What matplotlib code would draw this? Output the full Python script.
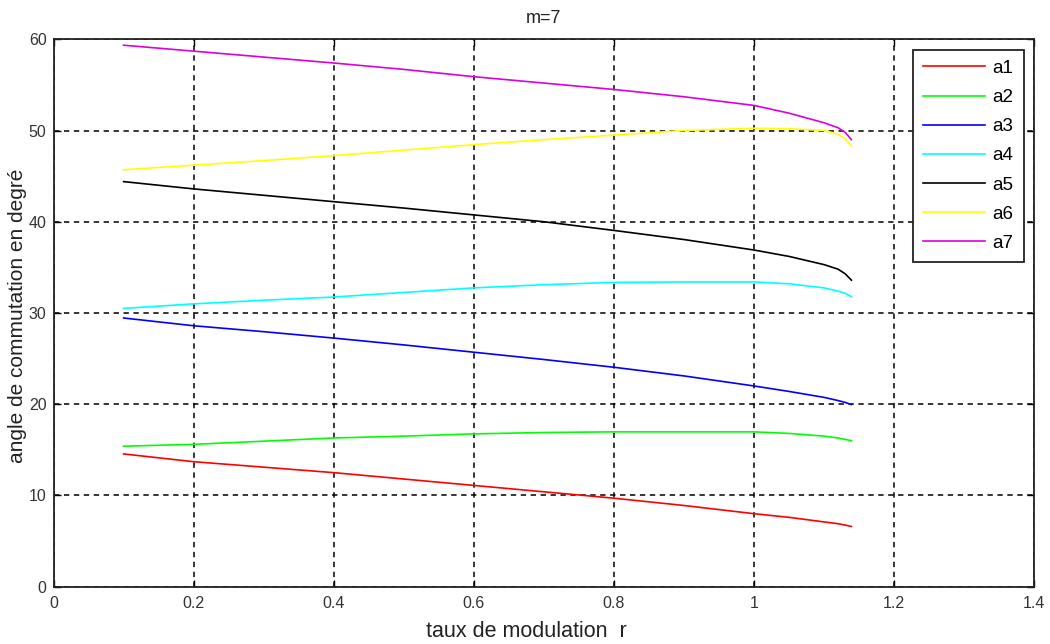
import numpy as np
import matplotlib
matplotlib.use("Agg")
import matplotlib.pyplot as plt

plt.rcParams['font.family'] = ['Liberation Sans', 'DejaVu Sans']

# modulation index r
r = [0.1, 0.2, 0.3, 0.4, 0.5, 0.6, 0.7, 0.8, 0.9, 1.0, 1.05, 1.1, 1.12, 1.13, 1.139]

# switching angles (degrees) for m = 7
a1 = [14.55, 13.7, 13.1, 12.5, 11.8, 11.1, 10.4, 9.7, 8.9, 8.0, 7.6, 7.1, 6.9, 6.75, 6.6]
a2 = [15.4, 15.6, 15.95, 16.3, 16.5, 16.75, 16.9, 16.97, 16.97, 16.97, 16.8, 16.5, 16.3, 16.15, 16.0]
a3 = [29.45, 28.6, 27.95, 27.25, 26.5, 25.7, 24.9, 24.05, 23.1, 22.0, 21.4, 20.75, 20.4, 20.2, 19.96]
a4 = [30.5, 31.0, 31.4, 31.75, 32.25, 32.75, 33.1, 33.35, 33.4, 33.4, 33.2, 32.75, 32.4, 32.15, 31.8]
a5 = [44.4, 43.6, 42.9, 42.2, 41.5, 40.75, 40.0, 39.05, 38.05, 36.9, 36.2, 35.3, 34.8, 34.3, 33.6]
a6 = [45.7, 46.2, 46.7, 47.25, 47.85, 48.45, 49.0, 49.5, 50.0, 50.25, 50.2, 50.0, 49.6, 49.1, 48.3]
a7 = [59.35, 58.7, 58.05, 57.4, 56.7, 55.9, 55.2, 54.5, 53.7, 52.75, 51.9, 50.85, 50.3, 49.8, 49.0]

labels = ['a1', 'a2', 'a3', 'a4', 'a5', 'a6', 'a7']
colors = ['#ff0000', '#00ff00', '#0000ff', '#00ffff', '#000000', '#ffff00', '#dd00dd']

xticks = [0, 0.2, 0.4, 0.6, 0.8, 1, 1.2, 1.4]
xticklabels = ['0', '0.2', '0.4', '0.6', '0.8', '1', '1.2', '1.4']
yticks = [0, 10, 20, 30, 40, 50, 60]

fig = plt.figure(figsize=(10.5, 6.44), dpi=100)
ax = fig.add_axes([0.051, 0.089, 0.934, 0.85])

for ys, lab, c in zip([a1, a2, a3, a4, a5, a6, a7], labels, colors):
    ax.plot(r, ys, color=c, lw=1.2, label=lab)

ax.set_xlim(0, 1.4)
ax.set_ylim(0, 60)
ax.set_xticks(xticks)
ax.set_xticklabels(xticklabels)
ax.set_yticks(yticks)
ax.tick_params(axis='both', direction='in', top=True, right=True, length=5, width=1,
               labelsize=11.5, labelcolor='#333333')
ax.tick_params(axis='x', pad=7)
ax.tick_params(axis='y', pad=5)
ax.grid(True, color='black', linestyle=(0, (3.5, 3)), lw=1.1)
for s in ax.spines.values():
    s.set_linewidth(1.3)
    s.set_color('#222222')

ax.set_title('m=7', fontsize=13, color='#222222', pad=12)
ax.set_xlabel('taux de modulation  r', fontsize=15.5, color='#222222')
ax.xaxis.set_label_coords(0.482, -0.062)
ax.set_ylabel('angle de commutation en degré', fontsize=15, color='#222222')
ax.yaxis.set_label_coords(-0.027, 0.495)

leg = ax.legend(loc='upper right', fontsize=13.5, handlelength=3.3, handletextpad=0.4,
                labelspacing=0.64, borderaxespad=0.55, fancybox=False, framealpha=1,
                edgecolor='#222222', borderpad=0.55)
leg.get_frame().set_linewidth(1.3)

fig.savefig('out.png', dpi=100)
